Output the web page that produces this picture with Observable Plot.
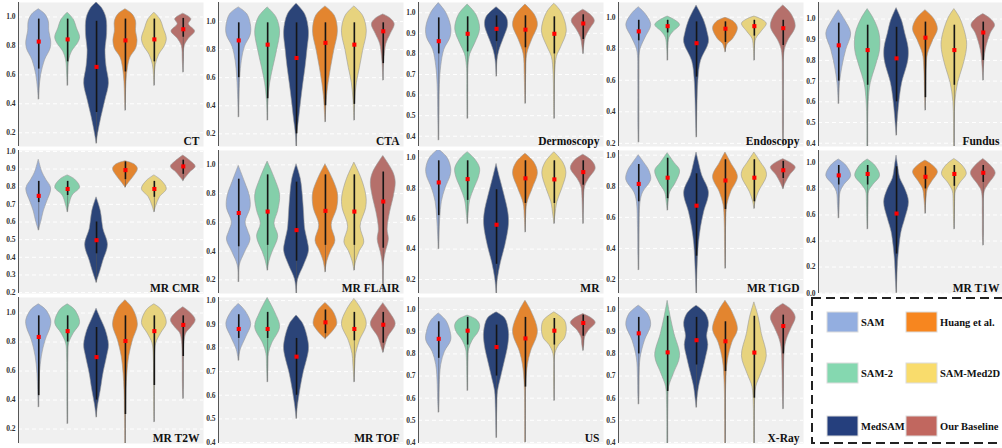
<!DOCTYPE html>
<html><head><meta charset="utf-8">
<script src="https://cdn.jsdelivr.net/npm/d3@7"></script>
<script src="https://cdn.jsdelivr.net/npm/@observablehq/plot@0.6"></script>
<style>
html,body{margin:0;padding:0;background:#fff;overflow:hidden;}
#wrap{position:relative;width:1002px;height:448px;overflow:hidden;background:#fff;}
#wrap svg{position:absolute;}
</style></head><body><div id="wrap"></div>
<script>
// ---------- data ----------
const models = ["SAM","SAM-2","MedSAM","Huang et al.","SAM-Med2D","Our Baseline"];
const violinColors = ["#97aedb","#84cfaa","#2b4478","#e3852f","#e7d37e","#b5706b"];
const legendColors = ["#93aee0","#85d8b0","#253f7d","#f7861f","#f9dc6c","#c1675f"];
const panels = ["CT","CTA","Dermoscopy","Endoscopy","Fundus","MR CMR","MR FLAIR","MR","MR T1GD","MR T1W","MR T2W","MR TOF","US","X-Ray"];

const ticksA = [0.2,0.4,0.6,0.8,1.0];
const ticksB = [0.4,0.5,0.6,0.7,0.8,0.9,1.0];
const ticksC = [0.2,0.3,0.4,0.5,0.6,0.7,0.8,0.9,1.0];
const ticksD = [0.0,0.2,0.4,0.6,0.8,1.0];
const panelTicks = [ticksA,ticksA,ticksB,ticksA,ticksB, ticksC,ticksA,ticksA,ticksA,ticksD, ticksA,ticksB,ticksB,ticksB];

const yDomains = [
  [0.105,1.1],[0.11,1.135],[0.35,1.05],[0.18,1.093],[0.384,1.08],
  [0.195,1.005],[0.105,1.1],[0.108,1.048],[0.11,1.03],[-0.003,1.095],
  [0.1,1.107],[0.396,1.013],[0.395,1.055],[0.395,1.055]
];

const means = [
  [0.83,0.845,0.655,0.838,0.845,0.915],
  [0.865,0.835,0.74,0.848,0.835,0.93],
  [0.862,0.898,0.922,0.918,0.898,0.948],
  [0.91,0.943,0.835,0.927,0.943,0.93],
  [0.873,0.85,0.81,0.91,0.85,0.935],
  [0.748,0.787,0.497,0.894,0.787,0.915],
  [0.665,0.675,0.546,0.68,0.675,0.745],
  [0.838,0.86,0.56,0.865,0.858,0.906],
  [0.815,0.855,0.675,0.837,0.855,0.903],
  [0.904,0.915,0.611,0.893,0.915,0.924],
  [0.835,0.875,0.696,0.807,0.875,0.918],
  [0.88,0.88,0.763,0.908,0.88,0.898],
  [0.868,0.905,0.831,0.87,0.905,0.94],
  [0.893,0.807,0.862,0.857,0.806,0.926]
];
const barHi = [
  [0.985,0.985,0.97,0.985,0.985,0.99],
  [0.99,0.99,0.99,0.99,0.99,0.99],
  [0.975,0.98,0.985,0.985,0.98,0.99],
  [0.98,0.98,0.97,0.97,0.98,0.98],
  [0.98,0.97,0.96,0.985,0.97,0.985],
  [0.83,0.83,0.6,0.94,0.83,0.95],
  [0.9,0.93,0.88,0.93,0.93,0.95],
  [0.98,0.98,0.79,0.98,0.98,0.98],
  [0.94,0.98,0.88,0.97,0.97,0.96],
  [0.98,0.98,0.97,0.97,0.98,0.98],
  [0.98,0.98,0.9,0.98,0.98,0.98],
  [0.94,0.95,0.84,0.96,0.95,0.95],
  [0.945,0.965,0.93,0.965,0.96,0.975],
  [0.965,0.97,0.965,0.945,0.97,0.975]
];
const barLo = [
  [0.64,0.69,0.34,0.62,0.69,0.86],
  [0.6,0.45,0.2,0.4,0.41,0.7],
  [0.8,0.81,0.86,0.83,0.8,0.87],
  [0.85,0.9,0.62,0.84,0.88,0.82],
  [0.7,0.68,0.6,0.62,0.68,0.8],
  [0.71,0.75,0.42,0.84,0.74,0.87],
  [0.43,0.44,0.33,0.44,0.44,0.42],
  [0.62,0.72,0.3,0.7,0.7,0.82],
  [0.7,0.72,0.35,0.65,0.7,0.85],
  [0.83,0.83,0.3,0.8,0.82,0.85],
  [0.43,0.8,0.4,0.3,0.5,0.7],
  [0.84,0.84,0.6,0.86,0.83,0.82],
  [0.78,0.84,0.7,0.65,0.84,0.88],
  [0.8,0.63,0.75,0.72,0.6,0.8]
];

// violin profiles: [score, relative half-width] per model
const shapeCT = [
  [[0.43,0],[0.5,0.06],[0.6,0.2],[0.7,0.5],[0.78,0.95],[0.83,1],[0.9,0.85],[0.97,0.8],[1.02,0.5],[1.053,0]],
  [[0.525,0],[0.6,0.04],[0.7,0.12],[0.76,0.35],[0.82,0.85],[0.86,1],[0.92,0.75],[0.98,0.5],[1.03,0]],
  [[0.125,0],[0.19,0.12],[0.31,0.4],[0.42,0.7],[0.54,1],[0.66,0.8],[0.77,0.72],[0.88,0.85],[0.99,0.8],[1.06,0.45],[1.1,0]],
  [[0.353,0],[0.45,0.04],[0.55,0.08],[0.65,0.2],[0.72,0.4],[0.78,0.85],[0.84,0.97],[0.9,0.85],[0.97,0.85],[1.02,0.55],[1.053,0]],
  [[0.525,0],[0.6,0.04],[0.67,0.12],[0.74,0.4],[0.8,0.85],[0.85,1],[0.92,0.75],[0.98,0.5],[1.03,0]],
  [[0.617,0],[0.7,0.04],[0.8,0.12],[0.85,0.45],[0.9,0.95],[0.95,0.45],[0.985,0.65],[1.023,0]]
];
const shapeCTA = [
  [[0.318,0],[0.44,0.04],[0.6,0.12],[0.72,0.25],[0.82,0.5],[0.9,0.95],[0.96,1],[1.05,0.7],[1.1,0]],
  [[0.295,0],[0.44,0.06],[0.56,0.2],[0.67,0.45],[0.79,0.75],[0.93,1],[1.03,0.7],[1.1,0]],
  [[0.105,0],[0.2,0.06],[0.3,0.2],[0.44,0.38],[0.56,0.55],[0.67,0.72],[0.8,0.88],[0.93,1],[1.05,0.7],[1.126,0]],
  [[0.283,0],[0.36,0.05],[0.44,0.1],[0.56,0.25],[0.67,0.45],[0.79,0.7],[0.93,1],[1.04,0.75],[1.107,0]],
  [[0.295,0],[0.44,0.07],[0.56,0.2],[0.67,0.45],[0.79,0.7],[0.93,1],[1.04,0.7],[1.107,0]],
  [[0.58,0],[0.68,0.04],[0.745,0.1],[0.84,0.25],[0.91,0.6],[0.98,0.92],[1.02,0.6],[1.05,0]]
];
const shapeDermoscopy = [
  [[0.38,0],[0.5,0.04],[0.65,0.09],[0.74,0.2],[0.82,0.45],[0.88,0.95],[0.93,1],[1,0.6],[1.047,0]],
  [[0.485,0],[0.6,0.03],[0.74,0.06],[0.8,0.22],[0.85,0.6],[0.92,1],[0.99,0.7],[1.04,0]],
  [[0.69,0],[0.77,0.08],[0.82,0.25],[0.87,0.55],[0.94,0.93],[0.98,0.8],[1.027,0]],
  [[0.558,0],[0.62,0.03],[0.7,0.06],[0.8,0.15],[0.87,0.55],[0.94,1],[0.99,0.75],[1.04,0]],
  [[0.485,0],[0.6,0.03],[0.7,0.06],[0.785,0.2],[0.833,0.55],[0.91,1],[1.0,0.6],[1.044,0]],
  [[0.8,0],[0.84,0.08],[0.88,0.2],[0.92,0.55],[0.96,0.93],[0.99,0.6],[1.015,0]]
];
const shapeEndoscopy = [
  [[0.206,0],[0.3,0.03],[0.6,0.04],[0.77,0.08],[0.81,0.2],[0.87,0.55],[0.95,1],[1.02,0.55],[1.063,0]],
  [[0.725,0],[0.8,0.04],[0.87,0.15],[0.905,0.45],[0.95,1],[0.98,0.6],[1.004,0]],
  [[0.238,0],[0.34,0.04],[0.47,0.08],[0.6,0.15],[0.72,0.35],[0.84,1],[0.9,0.9],[0.98,0.6],[1.074,0]],
  [[0.778,0],[0.81,0.1],[0.83,0.2],[0.86,0.6],[0.93,1],[0.97,0.7],[0.996,0]],
  [[0.725,0],[0.8,0.04],[0.862,0.15],[0.905,0.55],[0.958,1],[0.985,0.6],[1.004,0]],
  [[0.175,0],[0.3,0.03],[0.6,0.04],[0.79,0.12],[0.85,0.4],[0.94,1],[1.02,0.65],[1.074,0]]
];
const shapeFundus = [
  [[0.59,0],[0.69,0.1],[0.77,0.3],[0.85,0.6],[0.93,1],[0.99,0.55],[1.043,0]],
  [[0.384,0.02],[0.5,0.03],[0.6,0.08],[0.69,0.25],[0.77,0.65],[0.85,1],[0.93,0.95],[1,0.5],[1.048,0]],
  [[0.437,0],[0.53,0.12],[0.61,0.25],[0.69,0.45],[0.8,0.95],[0.86,0.97],[0.93,0.7],[0.99,0.45],[1.053,0]],
  [[0.558,0],[0.65,0.04],[0.77,0.1],[0.83,0.2],[0.9,0.65],[0.95,1],[1.0,0.7],[1.043,0]],
  [[0.384,0.02],[0.5,0.03],[0.6,0.08],[0.69,0.3],[0.77,0.7],[0.85,1],[0.9,1],[1,0.5],[1.048,0]],
  [[0.703,0],[0.77,0.06],[0.85,0.2],[0.93,0.6],[0.97,0.95],[1,0.6],[1.024,0]]
];
const shapeMRCMR = [
  [[0.553,0],[0.6,0.2],[0.66,0.4],[0.71,0.65],[0.79,1],[0.84,0.6],[0.88,0.3],[0.953,0]],
  [[0.656,0],[0.7,0.15],[0.75,0.4],[0.795,1],[0.84,0.6],[0.864,0]],
  [[0.256,0],[0.32,0.3],[0.38,0.55],[0.47,0.92],[0.56,0.55],[0.66,0.35],[0.74,0]],
  [[0.795,0],[0.82,0.25],[0.86,0.7],[0.9,1],[0.925,0.75],[0.944,0]],
  [[0.656,0],[0.69,0.15],[0.74,0.45],[0.786,1],[0.833,0.6],[0.864,0]],
  [[0.832,0],[0.85,0.2],[0.88,0.55],[0.913,1],[0.944,0.6],[0.976,0]]
];
const shapeMRFLAIR = [
  [[0.184,0],[0.3,0.08],[0.39,0.5],[0.48,0.95],[0.54,0.75],[0.6,0.55],[0.7,0.95],[0.78,0.9],[0.88,0.5],[0.993,0]],
  [[0.265,0],[0.33,0.15],[0.39,0.38],[0.5,0.85],[0.59,0.55],[0.68,0.85],[0.79,1],[0.9,0.6],[1.023,0]],
  [[0.09,0],[0.2,0.12],[0.3,0.6],[0.4,1],[0.47,0.9],[0.55,0.7],[0.67,0.6],[0.79,0.5],[0.9,0.35],[1.005,0]],
  [[0.253,0],[0.33,0.15],[0.4,0.45],[0.47,0.8],[0.58,0.5],[0.7,0.95],[0.8,1],[0.9,0.6],[1.005,0]],
  [[0.265,0],[0.33,0.15],[0.4,0.45],[0.46,0.8],[0.57,0.5],[0.7,0.95],[0.78,0.97],[0.9,0.6],[1.016,0]],
  [[0.115,0],[0.2,0.02],[0.32,0.06],[0.39,0.2],[0.48,0.45],[0.55,0.35],[0.67,0.55],[0.78,0.85],[0.88,1],[0.95,0.8],[1.062,0]]
];
const shapeMR = [
  [[0.4,0],[0.49,0.05],[0.6,0.12],[0.71,0.25],[0.8,0.55],[0.88,0.95],[0.93,1],[1,0.7],[1.055,0]],
  [[0.566,0],[0.64,0.08],[0.72,0.2],[0.8,0.55],[0.87,0.9],[0.93,1],[0.99,0.6],[1.037,0]],
  [[0.105,0],[0.2,0.1],[0.31,0.35],[0.42,0.7],[0.56,1],[0.64,0.95],[0.75,0.65],[0.86,0.3],[0.96,0]],
  [[0.51,0],[0.6,0.05],[0.7,0.15],[0.8,0.6],[0.9,1],[0.97,0.7],[1.026,0]],
  [[0.566,0],[0.62,0.08],[0.71,0.25],[0.8,0.65],[0.9,0.97],[0.97,0.7],[1.037,0]],
  [[0.566,0],[0.65,0.03],[0.73,0.06],[0.81,0.15],[0.86,0.45],[0.93,1],[0.98,0.7],[1.02,0]]
];
const shapeMRT1GD = [
  [[0.26,0],[0.35,0.03],[0.53,0.06],[0.7,0.15],[0.76,0.35],[0.84,1],[0.9,0.85],[0.95,0.45],[1,0]],
  [[0.644,0],[0.7,0.08],[0.76,0.2],[0.82,0.65],[0.9,1],[0.95,0.55],[1.013,0]],
  [[0.105,0],[0.21,0.05],[0.31,0.1],[0.42,0.18],[0.53,0.35],[0.63,0.6],[0.76,1],[0.87,0.45],[0.95,0.2],[1.017,0]],
  [[0.27,0],[0.4,0.03],[0.57,0.06],[0.68,0.15],[0.76,0.45],[0.86,1],[0.95,0.45],[1.017,0]],
  [[0.655,0],[0.7,0.1],[0.76,0.35],[0.86,1],[0.9,0.95],[0.95,0.55],[1.017,0]],
  [[0.782,0],[0.82,0.2],[0.87,0.55],[0.92,1],[0.95,0.6],[0.974,0]]
];
const shapeMRT1W = [
  [[0.575,0],[0.67,0.06],[0.775,0.15],[0.83,0.45],[0.9,1],[0.98,0.6],[1.026,0]],
  [[0.49,0],[0.6,0.04],[0.7,0.06],[0.78,0.12],[0.83,0.45],[0.9,1],[0.98,0.6],[1.026,0]],
  [[0,0],[0.11,0.06],[0.24,0.12],[0.37,0.25],[0.47,0.4],[0.57,0.7],[0.7,1],[0.8,0.7],[0.88,0.3],[0.98,0.12],[1.056,0]],
  [[0.61,0],[0.72,0.08],[0.8,0.2],[0.85,0.5],[0.93,1],[0.98,0.6],[1.018,0]],
  [[0.49,0],[0.6,0.04],[0.7,0.06],[0.78,0.12],[0.84,0.45],[0.916,1],[0.98,0.65],[1.03,0]],
  [[0.366,0],[0.45,0.03],[0.6,0.04],[0.78,0.12],[0.83,0.4],[0.92,1],[0.98,0.6],[1.03,0]]
];
const shapeMRT2W = [
  [[0.35,0],[0.47,0.05],[0.58,0.1],[0.7,0.25],[0.81,0.55],[0.9,0.95],[0.95,1],[1.02,0.6],[1.06,0]],
  [[0.235,0],[0.35,0.02],[0.5,0.03],[0.7,0.05],[0.79,0.12],[0.86,0.5],[0.93,1],[1.02,0.6],[1.06,0]],
  [[0.28,0],[0.35,0.1],[0.4,0.2],[0.47,0.35],[0.58,0.55],[0.7,0.85],[0.78,1],[0.88,0.75],[0.95,0.4],[1.03,0]],
  [[0.1,0.02],[0.2,0.03],[0.35,0.05],[0.47,0.08],[0.58,0.15],[0.7,0.3],[0.81,0.6],[0.92,1],[1.03,0.6],[1.088,0]],
  [[0.247,0],[0.35,0.02],[0.5,0.03],[0.7,0.05],[0.79,0.15],[0.86,0.55],[0.93,1],[1.02,0.6],[1.06,0]],
  [[0.408,0],[0.5,0.03],[0.7,0.05],[0.8,0.1],[0.86,0.25],[0.9,0.65],[0.95,1],[1,0.6],[1.04,0]]
];
const shapeMRTOF = [
  [[0.746,0],[0.79,0.15],[0.845,0.6],[0.9,1],[0.955,0.55],[0.986,0]],
  [[0.655,0],[0.718,0.05],[0.775,0.1],[0.817,0.35],[0.887,1],[0.95,0.6],[1.011,0]],
  [[0.5,0],[0.55,0.1],[0.62,0.3],[0.69,0.55],[0.79,1],[0.83,0.95],[0.9,0.55],[0.937,0]],
  [[0.838,0],[0.855,0.35],[0.88,0.75],[0.9,0.95],[0.93,0.85],[0.96,0.55],[0.99,0]],
  [[0.655,0],[0.73,0.08],[0.775,0.15],[0.83,0.45],[0.9,1],[0.96,0.6],[1.007,0]],
  [[0.78,0],[0.8,0.12],[0.845,0.4],[0.9,1],[0.944,0.6],[0.989,0]]
];
const shapeUS = [
  [[0.535,0],[0.59,0.05],[0.66,0.08],[0.75,0.2],[0.81,0.5],[0.86,1],[0.9,0.95],[0.95,0.6],[0.983,0]],
  [[0.633,0],[0.7,0.03],[0.78,0.06],[0.82,0.12],[0.86,0.4],[0.9,0.9],[0.93,1],[0.955,0.7],[0.973,0]],
  [[0.42,0],[0.56,0.06],[0.63,0.12],[0.69,0.35],[0.75,0.6],[0.84,0.95],[0.9,1],[0.96,0.7],[0.988,0]],
  [[0.4,0.02],[0.55,0.03],[0.66,0.06],[0.75,0.2],[0.81,0.45],[0.9,1],[0.99,0.5],[1.04,0]],
  [[0.588,0],[0.68,0.03],[0.8,0.08],[0.84,0.4],[0.87,0.85],[0.91,1],[0.95,0.85],[0.988,0]],
  [[0.814,0],[0.84,0.08],[0.875,0.15],[0.905,0.45],[0.94,1],[0.96,0.7],[0.98,0]]
];
const shapeXRay = [
  [[0.572,0],[0.62,0.04],[0.69,0.06],[0.78,0.15],[0.86,0.5],[0.93,1],[0.98,0.75],[1.018,0]],
  [[0.395,0.02],[0.5,0.03],[0.57,0.05],[0.65,0.12],[0.71,0.5],[0.79,1],[0.89,0.55],[0.965,0.25],[1.04,0]],
  [[0.557,0],[0.65,0.2],[0.71,0.45],[0.78,0.75],[0.84,0.95],[0.88,0.85],[0.94,1],[0.985,0.7],[1.018,0]],
  [[0.395,0.02],[0.5,0.03],[0.66,0.06],[0.77,0.2],[0.85,0.55],[0.91,1],[0.99,0.55],[1.04,0]],
  [[0.395,0.02],[0.5,0.03],[0.57,0.05],[0.65,0.15],[0.71,0.55],[0.79,1],[0.89,0.6],[0.965,0.35],[1.033,0]],
  [[0.55,0],[0.64,0.04],[0.72,0.06],[0.83,0.15],[0.875,0.35],[0.92,0.7],[0.965,1],[1,0.65],[1.026,0]]
];
const panelShapes = [shapeCT,shapeCTA,shapeDermoscopy,shapeEndoscopy,shapeFundus,
  shapeMRCMR,shapeMRFLAIR,shapeMR,shapeMRT1GD,shapeMRT1W,
  shapeMRT2W,shapeMRTOF,shapeUS,shapeXRay];

// ---------- layout ----------
const rowTops = [2,150,297], rowBottoms = [146,293,443];
const serif = "'Liberation Serif','Times New Roman',serif";
const HALF = 0.43;
const wrap = document.getElementById("wrap");

function makePanel(k){
  const r = Math.floor(k/5), c = k%5;
  const h = rowBottoms[r]-rowTops[r];
  const shapes = panelShapes[k];
  const rows = [];
  shapes.forEach((prof,i)=>prof.forEach(([v,w])=>rows.push({m:models[i],i,v,w})));
  const stats = models.map((m,i)=>({m,i,mean:means[k][i],lo:barLo[k][i],hi:barHi[k][i],min:shapes[i][0][0]}));
  const ticks = panelTicks[k];
  const svg = Plot.plot({
    width:205, height:h+10, marginLeft:18, marginRight:2, marginTop:5, marginBottom:5,
    style:{background:"transparent", overflow:"visible"},
    x:{domain:[-0.7,5.7], axis:null},
    y:{domain:yDomains[k], axis:null},
    color:{domain:models, range:violinColors},
    marks:[
      Plot.frame({fill:"#f0f0f0", stroke:null}),
      Plot.gridY(ticks,{stroke:"#ffffff", strokeOpacity:1, strokeWidth:1, strokeDasharray:"4,3"}),
      Plot.ruleX([-0.7],{stroke:"#555", strokeWidth:1}),
      Plot.axisY(ticks,{tickSize:0, tickPadding:3, tickFormat:d3.format(".1f"), fontFamily:serif, fontWeight:"bold", fontSize:7.5, fill:"#333"}),
      Plot.areaX(rows,{y:"v", x1:d=>d.i-d.w*HALF, x2:d=>d.i+d.w*HALF, z:"m", fill:"m", stroke:"#9a9a9a", strokeWidth:0.6, curve:"catmull-rom", clip:true}),
      Plot.ruleX(stats,{x:"i", y1:"min", y2:"hi", stroke:"#555", strokeWidth:0.8, strokeOpacity:0.7, clip:true}),
      Plot.ruleX(stats,{x:"i", y1:"lo", y2:"hi", stroke:"#151515", strokeWidth:1.6}),
      Plot.dot(stats,{x:"i", y:"mean", symbol:"square", r:2.3, fill:"#ff0000", stroke:null}),
      Plot.text([panels[k]],{frameAnchor:"bottom-right", dx:-4, dy:-2, fontFamily:serif, fontWeight:"bold", fontSize:11.5, fill:"#111"})
    ]
  });
  svg.style.left = (200*c)+"px";
  svg.style.top = (rowTops[r]-5)+"px";
  wrap.appendChild(svg);
}
panels.forEach((_,k)=>makePanel(k));

// ---------- legend ----------
const lg = d3.create("svg").attr("width",197).attr("height",158)
  .style("left","805px").style("top","290px").style("position","absolute");
lg.append("rect").attr("x",7).attr("y",8).attr("width",230).attr("height",145)
  .attr("fill","none").attr("stroke","#222").attr("stroke-width",2).attr("stroke-dasharray","9,5");
const legendRows = [[0,3],[1,4],[2,5]];
const rowY = [32,83,136];
legendRows.forEach((pair,ri)=>{
  pair.forEach((mi,ci)=>{
    const sx = ci===0 ? 22 : 101;
    lg.append("rect").attr("x",sx).attr("y",rowY[ri]-10).attr("width",31).attr("height",20)
      .attr("fill",legendColors[mi]).attr("stroke","#dcdcdc").attr("stroke-width",1);
    lg.append("text").attr("x",sx+34).attr("y",rowY[ri]).attr("dy","0.35em")
      .attr("font-family",serif).attr("font-weight","bold").attr("font-size",10.5).attr("fill","#111")
      .text(models[mi]);
  });
});
wrap.appendChild(lg.node());
</script>
</body></html>
